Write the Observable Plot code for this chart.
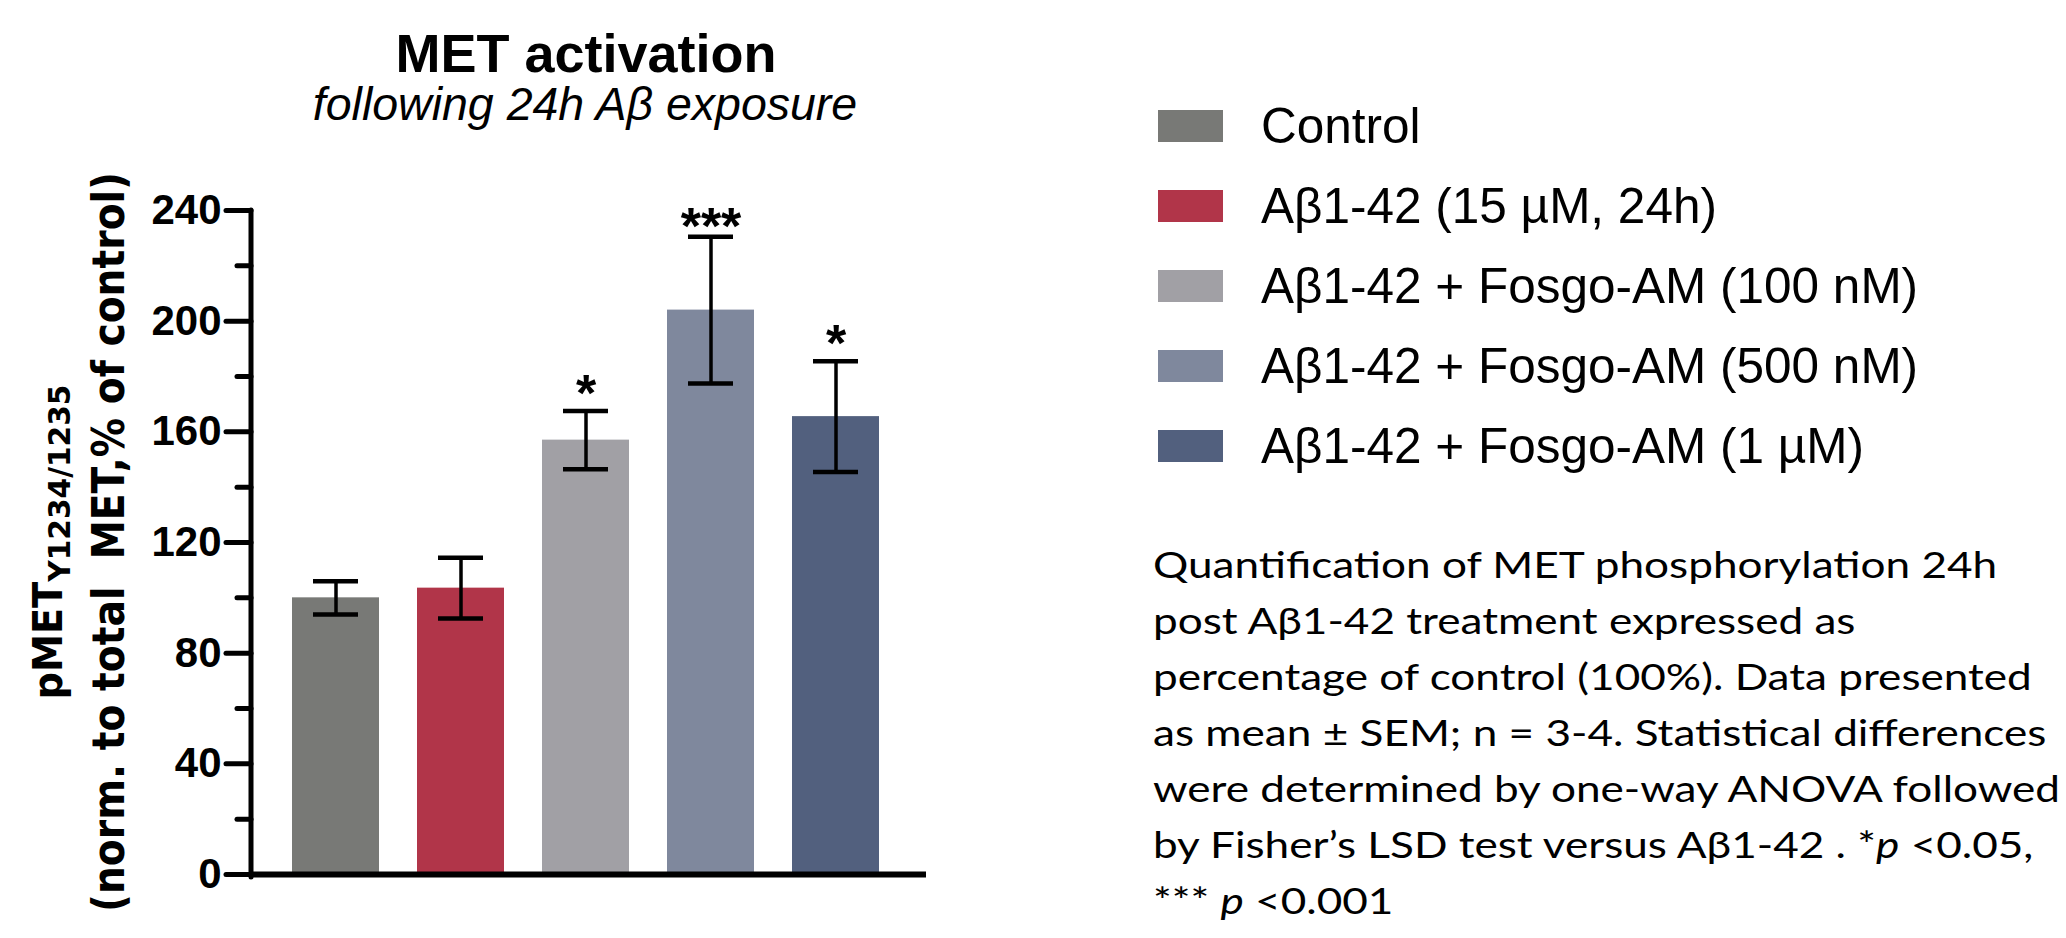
<!DOCTYPE html>
<html>
<head>
<meta charset="utf-8">
<script src="https://cdn.jsdelivr.net/npm/d3@7"></script>
<script src="https://cdn.jsdelivr.net/npm/@observablehq/plot@0.6"></script>
<style>
  html, body { margin: 0; padding: 0; background: #fff; }
  #wrap { position: relative; width: 2066px; height: 938px; overflow: hidden; background: #fff; }
  #wrap > svg { position: absolute; left: 0; top: 0; }
</style>
</head>
<body>
<div id="wrap"></div>
<script>
// ---- data ----
const categories = [
  "Control",
  "Aβ1-42 (15 µM, 24h)",
  "Aβ1-42 + Fosgo-AM (100 nM)",
  "Aβ1-42 + Fosgo-AM (500 nM)",
  "Aβ1-42 + Fosgo-AM (1 µM)"
];
const means = [100, 103.5, 157, 204, 165.5];
const sems = [6, 11, 10.5, 26.5, 20];
const stars = ["", "", "*", "***", "*"];
const colors = ["#787976", "#B13549", "#A1A0A5", "#7F889D", "#52607E"];
const yTicks = [0, 40, 80, 120, 160, 200, 240];
const yMinorTicks = [20, 60, 100, 140, 180, 220];
const titleText = "MET activation";
const subtitleText = "following 24h Aβ exposure";
const yLabelMain = "pMET";
const yLabelSub = "Y1234/1235";
const yLabelLine2 = "(norm. to total  MET,% of control)";
const captionLines = [
  ["Quantification of MET phosphorylation 24h"],
  ["post Aβ1-42 treatment expressed as"],
  ["percentage of control (100%). Data presented"],
  ["as mean ± SEM; n = 3-4. Statistical differences"],
  ["were determined by one-way ANOVA followed"],
  ["by Fisher’s LSD test versus Aβ1-42 . *", {i: "p"}, " <0.05,"],
  ["*** ", {i: "p"}, " <0.001"]
];

const data = categories.map((g, i) => ({group: g, mean: means[i], sem: sems[i], star: stars[i]}));

const yAxisLine = (index, scales, values, dimensions) => {
  const x = dimensions.marginLeft;
  return d3.create("svg:line")
    .attr("x1", x).attr("x2", x)
    .attr("y1", scales.y(yTicks[yTicks.length - 1]))
    .attr("y2", scales.y(0) + 3)
    .attr("stroke", "black").attr("stroke-width", 5)
    .attr("stroke-linecap", "round")
    .node();
};

const starFont = {fontSize: 52, fontWeight: "bold", fontFamily: "Liberation Sans, Arial, sans-serif", fill: "black"};

const chart = Plot.plot({
  width: 1000,
  height: 938,
  marginLeft: 251,
  marginRight: 80,
  marginTop: 210,
  marginBottom: 64,
  style: {background: "transparent", overflow: "visible"},
  x: {type: "band", domain: categories, paddingInner: 0.304, paddingOuter: 0.328, axis: null},
  y: {domain: [0, 240]},
  color: {domain: categories, range: colors},
  marks: [
    Plot.barY(data, {x: "group", y: "mean", fill: "group"}),
    Plot.ruleX(data, {x: "group", y1: d => d.mean - d.sem, y2: d => d.mean + d.sem, stroke: "black", strokeWidth: 3.5}),
    Plot.tickY(data, {x: "group", y: d => d.mean + d.sem, stroke: "black", strokeWidth: 4.5, insetLeft: 21, insetRight: 21}),
    Plot.tickY(data, {x: "group", y: d => d.mean - d.sem, stroke: "black", strokeWidth: 4.5, insetLeft: 21, insetRight: 21}),
    Plot.text(data.filter(d => d.star.length === 1), {x: "group", y: d => d.mean + d.sem, text: "star", dy: -17, ...starFont}),
    Plot.text(data.filter(d => d.star.length > 1), {x: "group", y: d => d.mean + d.sem, text: "star", dy: -9, ...starFont}),
    Plot.ruleY([0], {stroke: "black", strokeWidth: 6, insetRight: -6}),
    yAxisLine,
    Plot.axisY(yTicks, {tickSize: 25, tickPadding: 5, strokeWidth: 5, strokeLinecap: "round", stroke: "black", fill: "black",
      fontSize: 42, fontWeight: "bold", fontFamily: "Liberation Sans, Arial, sans-serif", label: null}),
    Plot.axisY(yMinorTicks, {tickSize: 14, strokeWidth: 5, strokeLinecap: "round", stroke: "black", tickFormat: () => "", label: null})
  ]
});

const wrap = document.getElementById("wrap");
wrap.appendChild(chart);

// y axis label (rotated, with subscript)
const csvg = d3.select(chart);
const yl1 = csvg.append("text")
  .attr("transform", "translate(62,542) rotate(-90)")
  .attr("text-anchor", "middle")
  .attr("font-family", "DejaVu Sans, sans-serif")
  .attr("font-weight", "bold")
  .attr("font-size", 40)
  .attr("fill", "black")
  .attr("textLength", 315)
  .attr("lengthAdjust", "spacingAndGlyphs");
yl1.append("tspan").text(yLabelMain);
yl1.append("tspan").attr("dy", 8).attr("font-size", 31).text(yLabelSub);
csvg.append("text")
  .attr("transform", "translate(124,542) rotate(-90)")
  .attr("text-anchor", "middle")
  .attr("font-family", "DejaVu Sans, sans-serif")
  .attr("font-weight", "bold")
  .attr("font-size", 45)
  .attr("fill", "black")
  .attr("textLength", 740)
  .attr("lengthAdjust", "spacingAndGlyphs")
  .style("white-space", "pre")
  .text(yLabelLine2);

// overlay: title, subtitle, legend, caption
const ov = d3.select(wrap).append("svg")
  .attr("width", 2066).attr("height", 938)
  .style("position", "absolute").style("left", 0).style("top", 0);

ov.append("text").attr("x", 586).attr("y", 72).attr("text-anchor", "middle")
  .attr("font-family", "Liberation Sans, Arial, sans-serif").attr("font-weight", "bold")
  .attr("font-size", 54).text(titleText);
ov.append("text").attr("x", 585).attr("y", 120).attr("text-anchor", "middle")
  .attr("font-family", "Liberation Sans, Arial, sans-serif").attr("font-style", "italic")
  .attr("font-size", 46.5).text(subtitleText);

const lg = ov.append("g");
categories.forEach((c, i) => {
  lg.append("rect").attr("x", 1158).attr("y", 110 + 80 * i).attr("width", 65).attr("height", 32).attr("fill", colors[i]);
  lg.append("text").attr("x", 1261).attr("y", 143 + 80 * i)
    .attr("font-family", "Liberation Sans, Arial, sans-serif").attr("font-size", 49.5)
    .attr("fill", "black").text(c);
});

// caption: glyph height from the reference, horizontally fitted to the measured line width
const capFont = "Lato";
const capSize = 36.5;
const ctx = document.createElement("canvas").getContext("2d");
ctx.font = `${capSize}px ${capFont}`;
const w3 = ctx.measureText(captionLines[2][0]).width;
const sx = 880 / w3;
const cap = ov.append("g")
  .attr("transform", `translate(1153,0) scale(${sx},1)`)
  .attr("font-family", `${capFont}, sans-serif`).attr("font-size", capSize).attr("fill", "black");
captionLines.forEach((parts, i) => {
  const t = cap.append("text").attr("x", 0).attr("y", 578 + 56 * i).style("white-space", "pre");
  parts.forEach(p => {
    if (typeof p === "string") t.append("tspan").text(p);
    else t.append("tspan").attr("font-style", "italic").text(p.i);
  });
});
</script>
</body>
</html>
